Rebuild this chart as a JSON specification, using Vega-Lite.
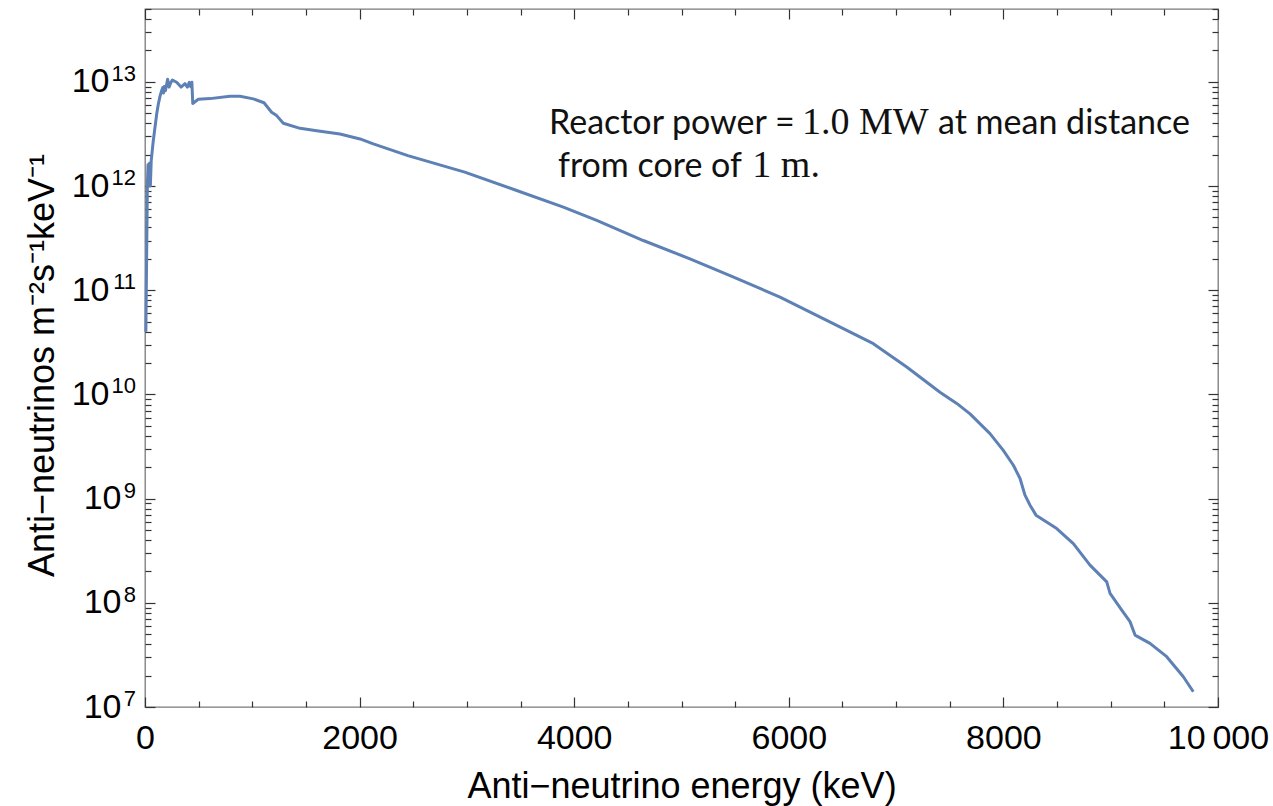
{
  "$schema": "https://vega.github.io/schema/vega-lite/v6.json",
  "width": 1073,
  "height": 698,
  "autosize": {"type": "none"},
  "padding": {"left": 145, "top": 9, "right": 55, "bottom": 99},
  "background": "white",
  "config": {
    "view": {"stroke": "#7a7a7a", "strokeWidth": 1.3},
    "axis": {
      "domain": false,
      "grid": false,
      "tickColor": "#333333",
      "tickWidth": 1.2,
      "labelFont": "Liberation Sans",
      "labelFontSize": 34,
      "labelColor": "#000000",
      "labelOverlap": false,
      "labelFlush": false,
      "labelBound": false,
      "titleFont": "Liberation Sans",
      "titleFontWeight": "normal",
      "titleColor": "#000000"
    }
  },
  "datasets": {
    "decades": [
      {"v": 1e7, "e": "7"},
      {"v": 1e8, "e": "8"},
      {"v": 1e9, "e": "9"},
      {"v": 1e10, "e": "10"},
      {"v": 1e11, "e": "11"},
      {"v": 1e12, "e": "12"},
      {"v": 1e13, "e": "13"}
    ]
  },
  "data": {
    "values": [
      {"E": 8, "v": 4.0e10},
      {"E": 15, "v": 2.0e11},
      {"E": 22, "v": 1.0e12},
      {"E": 28, "v": 1.6e12},
      {"E": 34, "v": 1.0e12},
      {"E": 42, "v": 1.65e12},
      {"E": 50, "v": 1.0e12},
      {"E": 58, "v": 1.75e12},
      {"E": 75, "v": 2.6e12},
      {"E": 93, "v": 3.66e12},
      {"E": 110, "v": 5.0e12},
      {"E": 124, "v": 6.1e12},
      {"E": 140, "v": 7.3e12},
      {"E": 155, "v": 8.2e12},
      {"E": 165, "v": 8.8e12},
      {"E": 172, "v": 7.8e12},
      {"E": 180, "v": 9.0e12},
      {"E": 190, "v": 8.2e12},
      {"E": 211, "v": 1.06e13},
      {"E": 225, "v": 8.9e12},
      {"E": 240, "v": 9.8e12},
      {"E": 255, "v": 1.04e13},
      {"E": 295, "v": 9.9e12},
      {"E": 336, "v": 8.9e12},
      {"E": 373, "v": 9.6e12},
      {"E": 395, "v": 8.9e12},
      {"E": 413, "v": 9.9e12},
      {"E": 425, "v": 9.0e12},
      {"E": 437, "v": 9.9e12},
      {"E": 445, "v": 6.2e12},
      {"E": 497, "v": 6.8e12},
      {"E": 606, "v": 6.9e12},
      {"E": 792, "v": 7.26e12},
      {"E": 885, "v": 7.26e12},
      {"E": 1010, "v": 6.86e12},
      {"E": 1109, "v": 6.3e12},
      {"E": 1180, "v": 5.1e12},
      {"E": 1227, "v": 4.74e12},
      {"E": 1289, "v": 4.0e12},
      {"E": 1445, "v": 3.58e12},
      {"E": 1600, "v": 3.4e12},
      {"E": 1817, "v": 3.16e12},
      {"E": 2004, "v": 2.83e12},
      {"E": 2128, "v": 2.54e12},
      {"E": 2450, "v": 1.96e12},
      {"E": 2980, "v": 1.36e12},
      {"E": 3464, "v": 9.06e11},
      {"E": 3899, "v": 6.27e11},
      {"E": 4210, "v": 4.67e11},
      {"E": 4644, "v": 3.0e11},
      {"E": 5079, "v": 2.0e11},
      {"E": 5480, "v": 1.34e11},
      {"E": 5918, "v": 8.6e10},
      {"E": 6508, "v": 4.28e10},
      {"E": 6788, "v": 3.07e10},
      {"E": 7099, "v": 1.83e10},
      {"E": 7409, "v": 1.05e10},
      {"E": 7565, "v": 8.2e9},
      {"E": 7689, "v": 6.5e9},
      {"E": 7875, "v": 4.2e9},
      {"E": 7999, "v": 2.9e9},
      {"E": 8093, "v": 2.09e9},
      {"E": 8155, "v": 1.56e9},
      {"E": 8201, "v": 1.08e9},
      {"E": 8248, "v": 8.65e8},
      {"E": 8304, "v": 6.94e8},
      {"E": 8497, "v": 5.16e8},
      {"E": 8652, "v": 3.7e8},
      {"E": 8807, "v": 2.3e8},
      {"E": 8963, "v": 1.59e8},
      {"E": 8994, "v": 1.23e8},
      {"E": 9103, "v": 8.5e7},
      {"E": 9180, "v": 6.6e7},
      {"E": 9227, "v": 4.9e7},
      {"E": 9366, "v": 4.08e7},
      {"E": 9522, "v": 3.04e7},
      {"E": 9677, "v": 1.95e7},
      {"E": 9770, "v": 1.4e7}
    ]
  },
  "layer": [
    {
      "mark": {"type": "line", "color": "#5e81b5", "strokeWidth": 3, "strokeJoin": "round"},
      "encoding": {
        "x": {
          "field": "E", "type": "quantitative",
          "scale": {"domain": [0, 10000], "nice": false, "zero": false},
          "axis": {
            "orient": "bottom",
            "values": [0, 500, 1000, 1500, 2000, 2500, 3000, 3500, 4000, 4500, 5000, 5500, 6000, 6500, 7000, 7500, 8000, 8500, 9000, 9500, 10000],
            "labelExpr": "datum.value % 2000 === 0 ? (datum.value === 10000 ? '10\u2009000' : '' + datum.value) : ''",
            "tickSize": {"condition": {"test": "datum.value % 2000 === 0", "value": -10}, "value": -6},
            "labelPadding": 24,
            "title": "Anti\u2212neutrino energy (keV)",
            "titleFontSize": 36,
            "titleBaseline": "alphabetic",
            "titleY": 90
          }
        },
        "y": {
          "field": "v", "type": "quantitative",
          "scale": {"type": "log", "domain": [1e7, 5e13], "nice": false},
          "axis": {
            "orient": "left",
            "values": [1e7, 2e7, 3e7, 4e7, 5e7, 6e7, 7e7, 8e7, 9e7, 1e8, 2e8, 3e8, 4e8, 5e8, 6e8, 7e8, 8e8, 9e8, 1e9, 2e9, 3e9, 4e9, 5e9, 6e9, 7e9, 8e9, 9e9, 1e10, 2e10, 3e10, 4e10, 5e10, 6e10, 7e10, 8e10, 9e10, 1e11, 2e11, 3e11, 4e11, 5e11, 6e11, 7e11, 8e11, 9e11, 1e12, 2e12, 3e12, 4e12, 5e12, 6e12, 7e12, 8e12, 9e12, 1e13, 2e13, 3e13, 4e13, 5e13],
            "labelExpr": "indexof([1e7,1e8,1e9,1e10,1e11,1e12,1e13], datum.value) >= 0 ? '10' : ''",
            "tickSize": {"condition": {"test": "indexof([1e7,1e8,1e9,1e10,1e11,1e12,1e13], datum.value) >= 0", "value": -10}, "value": -6},
            "labelPadding": {"condition": {"test": "datum.value >= 1e10", "value": 46}, "value": 34},
            "labelBaseline": "middle",
            "title": "Anti\u2212neutrinos m⁻²s⁻¹keV⁻¹",
            "titleFontSize": 36,
            "titleAngle": -90,
            "titleBaseline": "alphabetic",
            "titleAlign": "center",
            "titleX": -92,
            "titleY": 356
          }
        }
      }
    },
    {
      "mark": {"type": "line", "strokeOpacity": 0},
      "encoding": {
        "x": {
          "field": "E", "type": "quantitative",
          "axis": {
            "orient": "top",
            "values": [0, 500, 1000, 1500, 2000, 2500, 3000, 3500, 4000, 4500, 5000, 5500, 6000, 6500, 7000, 7500, 8000, 8500, 9000, 9500, 10000],
            "labels": false,
            "tickSize": {"condition": {"test": "datum.value % 2000 === 0", "value": -10}, "value": -6},
            "title": null
          }
        },
        "y": {
          "field": "v", "type": "quantitative",
          "axis": {
            "orient": "right",
            "values": [1e7, 2e7, 3e7, 4e7, 5e7, 6e7, 7e7, 8e7, 9e7, 1e8, 2e8, 3e8, 4e8, 5e8, 6e8, 7e8, 8e8, 9e8, 1e9, 2e9, 3e9, 4e9, 5e9, 6e9, 7e9, 8e9, 9e9, 1e10, 2e10, 3e10, 4e10, 5e10, 6e10, 7e10, 8e10, 9e10, 1e11, 2e11, 3e11, 4e11, 5e11, 6e11, 7e11, 8e11, 9e11, 1e12, 2e12, 3e12, 4e12, 5e12, 6e12, 7e12, 8e12, 9e12, 1e13, 2e13, 3e13, 4e13, 5e13],
            "labels": false,
            "tickSize": {"condition": {"test": "indexof([1e7,1e8,1e9,1e10,1e11,1e12,1e13], datum.value) >= 0", "value": -10}, "value": -6},
            "title": null
          }
        }
      }
    },
    {
      "data": {"name": "decades"},
      "mark": {"type": "text", "font": "Liberation Sans", "fontSize": 22, "align": "right", "baseline": "alphabetic", "dx": -9, "dy": -1, "color": "#000000", "clip": false},
      "encoding": {
        "x": {"datum": 0, "type": "quantitative", "axis": null},
        "y": {"field": "v", "type": "quantitative", "axis": null},
        "text": {"field": "e", "type": "nominal"}
      }
    },
    {
      "data": {"values": [{}]},
      "mark": {"type": "text", "text": "Reactor power =", "font": "Lato", "fontSize": 34, "align": "left", "baseline": "alphabetic", "color": "#111111"},
      "encoding": {
        "x": {"datum": 3765, "type": "quantitative", "axis": null},
        "y": {"datum": 3.18e12, "type": "quantitative", "axis": null}
      }
    },
    {
      "data": {"values": [{}]},
      "mark": {"type": "text", "text": "1.0 MW", "font": "Liberation Serif", "fontSize": 38, "align": "left", "baseline": "alphabetic", "color": "#111111"},
      "encoding": {
        "x": {"datum": 6123, "type": "quantitative", "axis": null},
        "y": {"datum": 3.18e12, "type": "quantitative", "axis": null}
      }
    },
    {
      "data": {"values": [{}]},
      "mark": {"type": "text", "text": "at mean distance", "font": "Lato", "fontSize": 34, "align": "left", "baseline": "alphabetic", "color": "#111111"},
      "encoding": {
        "x": {"datum": 7391, "type": "quantitative", "axis": null},
        "y": {"datum": 3.18e12, "type": "quantitative", "axis": null}
      }
    },
    {
      "data": {"values": [{}]},
      "mark": {"type": "text", "text": "from core of", "font": "Lato", "fontSize": 34, "align": "left", "baseline": "alphabetic", "color": "#111111"},
      "encoding": {
        "x": {"datum": 3849, "type": "quantitative", "axis": null},
        "y": {"datum": 1.233e12, "type": "quantitative", "axis": null}
      }
    },
    {
      "data": {"values": [{}]},
      "mark": {"type": "text", "text": "1 m.", "font": "Liberation Serif", "fontSize": 38, "align": "left", "baseline": "alphabetic", "color": "#111111"},
      "encoding": {
        "x": {"datum": 5660, "type": "quantitative", "axis": null},
        "y": {"datum": 1.233e12, "type": "quantitative", "axis": null}
      }
    }
  ],
  "resolve": {"axis": {"x": "independent", "y": "independent"}}
}
